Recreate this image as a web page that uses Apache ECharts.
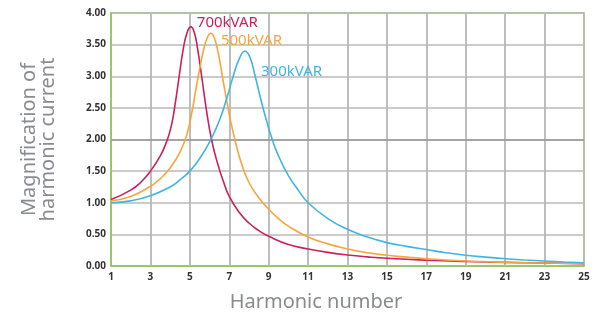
<!DOCTYPE html>
<html>
<head>
<meta charset="utf-8">
<script src="https://cdn.jsdelivr.net/npm/echarts@6.0.0/dist/echarts.min.js"></script>
<style>
	html, body {margin: 0; padding: 0; background: #fff;}
	#container {width: 598px; height: 312px;}
</style>
</head>
<body>
<div id="container"></div>
<script>
// values
const harm700 = [1, 2, 2.5, 3, 3.5, 3.8, 4.05, 4.25, 4.45, 4.65, 4.85, 5.05, 5.22, 5.4, 5.6, 5.85, 6.1, 6.4, 6.7, 7, 7.5, 8, 8.5, 9, 10, 11, 12, 13, 14, 15, 17, 19, 21, 23, 25];
const mag700 = [1.05, 1.2, 1.32, 1.5, 1.74, 1.95, 2.2, 2.55, 2.98, 3.4, 3.68, 3.78, 3.7, 3.42, 3.0, 2.45, 2.0, 1.63, 1.34, 1.1, 0.85, 0.68, 0.56, 0.47, 0.34, 0.27, 0.215, 0.175, 0.145, 0.122, 0.092, 0.072, 0.058, 0.047, 0.038];

const harm500 = [1, 2, 3, 3.5, 4, 4.5, 4.85, 5.1, 5.3, 5.5, 5.7, 5.9, 6.07, 6.25, 6.45, 6.65, 6.85, 7.05, 7.3, 7.6, 8, 8.5, 9, 9.5, 10, 11, 12, 13, 14, 15, 16, 17, 19, 21, 23, 25];
const mag500 = [1.03, 1.1, 1.26, 1.38, 1.55, 1.8, 2.08, 2.42, 2.78, 3.12, 3.42, 3.62, 3.68, 3.6, 3.35, 3.0, 2.65, 2.32, 1.98, 1.64, 1.32, 1.08, 0.9, 0.75, 0.63, 0.46, 0.35, 0.27, 0.21, 0.17, 0.14, 0.115, 0.08, 0.06, 0.047, 0.038];

const harm300 = [1, 2, 3, 4, 4.5, 5, 5.5, 6, 6.5, 6.9, 7.2, 7.5, 7.8, 8.05, 8.3, 8.55, 8.8, 9.15, 9.5, 10, 10.5, 11, 12, 13, 14, 15, 16, 17, 18, 19, 20, 21, 22, 23, 24, 25];
const mag300 = [1.0, 1.03, 1.11, 1.25, 1.36, 1.5, 1.7, 1.96, 2.3, 2.68, 3.0, 3.27, 3.4, 3.3, 3.02, 2.7, 2.4, 2.03, 1.74, 1.43, 1.2, 1.0, 0.75, 0.58, 0.46, 0.37, 0.31, 0.26, 0.21, 0.17, 0.14, 0.115, 0.095, 0.078, 0.064, 0.052];

const names = ['700kVAR', '500kVAR', '300kVAR'];
const colors = ['#cc1f5e', '#f8a53c', '#3fb5e5'];
const labelOffsets = [[6, -4], [10, 7], [16, 21]];

// vertical grid lines sit on the odd harmonics
const xGrid = [3, 5, 7, 9, 11, 13, 15, 17, 19, 21, 23];

const Font = '"Noto Sans", sans-serif';
const GridColor = '#bababa';

function Pairs(h, m) {
	const out = [];
	for (const Key in h) {
		out.push([h[Key], m[Key]]);
	}
	return out;
}

function Peak(h, m) {
	const i = m.indexOf(Math.max(...m));
	return [h[i], m[i]];
}

const sets = [[harm700, mag700], [harm500, mag500], [harm300, mag300]];
const series = [];
for (let i = 0; i < sets.length; i++) {
	series.push({
		name: names[i], type: 'line', smooth: 0.5, showSymbol: false, silent: true, z: 5,
		data: Pairs(sets[i][0], sets[i][1]),
		lineStyle: {color: colors[i], width: 1.6},
		markPoint: {
			symbol: 'circle', symbolSize: 0, silent: true,
			data: [{coord: Peak(sets[i][0], sets[i][1])}],
			label: {
				show: true, position: 'right', distance: 0, offset: labelOffsets[i],
				formatter: names[i], color: colors[i], fontFamily: Font, fontSize: 15
			}
		}
	});
}

// grid: vertical lines plus the darker 2.00 line
series.push({
	type: 'line', data: [], silent: true, z: 1,
	markLine: {
		silent: true, symbol: 'none', label: {show: false}, animation: false,
		lineStyle: {color: GridColor, width: 1.5, type: 'solid'},
		data: xGrid.map(function (v) {
			return [{coord: [v, 0]}, {coord: [v, 4]}];
		}).concat([[{coord: [1, 2], lineStyle: {color: '#999'}}, {coord: [25, 2]}]])
	}
});

const option = {
	animation: false,
	grid: {
		left: 111, right: 14, top: 13, bottom: 46, outerBoundsMode: 'none',
		show: true, borderColor: '#8fc756', borderWidth: 1.5
	}, xAxis: {
		type: 'value', min: 1, max: 25, interval: 2,
		name: 'Harmonic number', nameLocation: 'middle', nameGap: 26,
		nameTextStyle: {color: '#8a8b90', fontFamily: Font, fontSize: 20, padding: [0, 63, 0, 0]},
		axisLine: {lineStyle: {color: '#8fc756', width: 1.5}},
		axisTick: {show: false},
		axisLabel: {color: '#333', fontFamily: Font, fontSize: 10, fontWeight: 'bold', margin: 6},
		splitLine: {show: true, lineStyle: {color: GridColor, width: 1.5}}
	}, yAxis: {
		type: 'value', min: 0, max: 4, interval: 0.5,
		name: 'Magnification of\nharmonic current', nameLocation: 'middle', nameGap: 53,
		nameTextStyle: {color: '#8a8b90', fontFamily: Font, fontSize: 20, lineHeight: 19},
		axisLine: {show: true, lineStyle: {color: '#8fc756', width: 1.5}},
		axisTick: {show: false},
		axisLabel: {
			color: '#333', fontFamily: Font, fontSize: 10, fontWeight: 'bold', margin: 5,
			formatter: function (v) {
				return v.toFixed(2);
			}
		},
		splitLine: {show: true, lineStyle: {color: GridColor, width: 1.5}}
	}, series: series
};
echarts.init(document.getElementById('container')).setOption(option);
</script>
</body>
</html>
